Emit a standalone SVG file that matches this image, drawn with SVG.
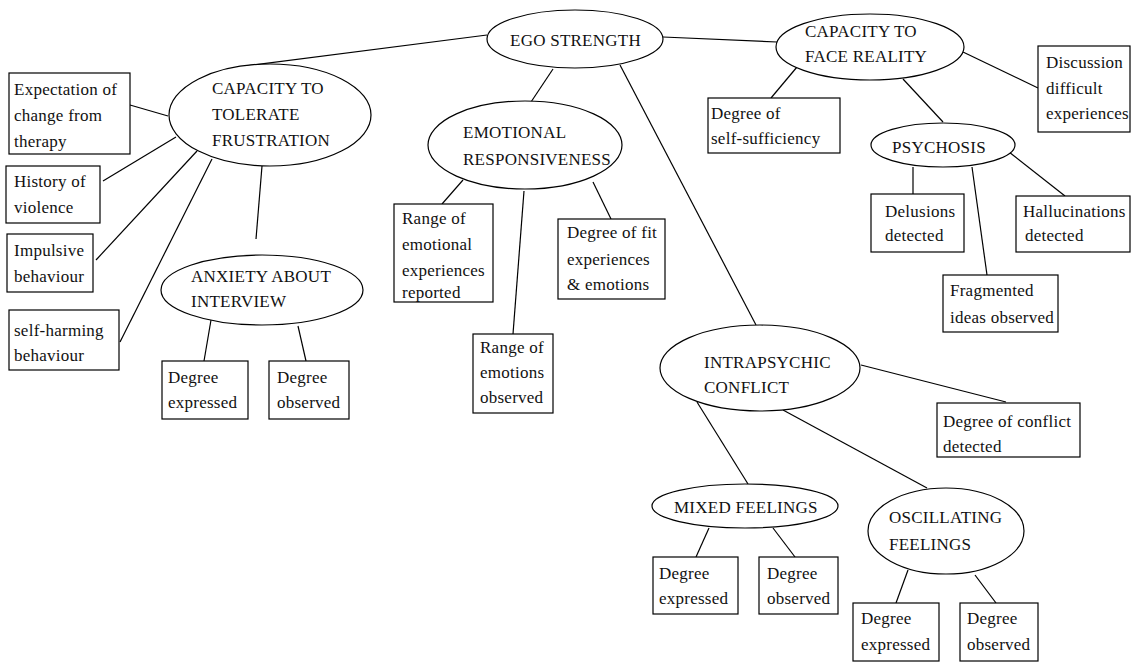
<svg xmlns="http://www.w3.org/2000/svg" width="1131" height="663" viewBox="0 0 1131 663">
<style>
.n{fill:#fff;stroke:#000;stroke-width:1.2}
.c line{stroke:#000;stroke-width:1.2}
text{font-family:'Liberation Serif','Times New Roman',serif;font-size:17px;letter-spacing:0.25px;fill:#111}
</style>
<rect width="1131" height="663" fill="#fff"/>
<g class="c" id="connectors">
<line x1="245" y1="66" x2="487" y2="35"/>
<line x1="663" y1="37" x2="777" y2="42"/>
<line x1="553" y1="69" x2="531" y2="102"/>
<line x1="620" y1="65" x2="756" y2="325"/>
<line x1="130" y1="105" x2="168" y2="116"/>
<line x1="103" y1="181" x2="176" y2="137"/>
<line x1="96" y1="260" x2="197" y2="151"/>
<line x1="120" y1="342" x2="212" y2="159"/>
<line x1="262" y1="166" x2="256" y2="239"/>
<line x1="211" y1="320" x2="204" y2="361"/>
<line x1="298" y1="326" x2="306" y2="361"/>
<line x1="463" y1="180" x2="442" y2="204"/>
<line x1="524" y1="191" x2="513" y2="334"/>
<line x1="593" y1="182" x2="611" y2="219"/>
<line x1="797" y1="67" x2="771" y2="98"/>
<line x1="963" y1="52" x2="1038" y2="88"/>
<line x1="903" y1="79" x2="943" y2="122"/>
<line x1="913" y1="167" x2="913" y2="194"/>
<line x1="1009" y1="152" x2="1065" y2="196"/>
<line x1="972" y1="167" x2="987" y2="275"/>
<line x1="861" y1="365" x2="1006" y2="402"/>
<line x1="697" y1="402" x2="748" y2="484"/>
<line x1="783" y1="410" x2="927" y2="488"/>
<line x1="709" y1="528" x2="696" y2="557"/>
<line x1="773" y1="528" x2="795" y2="557"/>
<line x1="908" y1="570" x2="896" y2="603"/>
<line x1="975" y1="575" x2="996" y2="603"/>
</g>
<g id="ego"><ellipse class="n" cx="575" cy="39" rx="88" ry="29"/><text x="510" y="46">EGO STRENGTH</text></g>
<g id="ctf"><ellipse class="n" cx="270" cy="115" rx="101" ry="51"/><text x="212" y="94">CAPACITY TO</text><text x="212" y="120">TOLERATE</text><text x="212" y="146">FRUSTRATION</text></g>
<g id="expect"><rect class="n" x="9" y="73" width="121" height="81"/><text x="14" y="95">Expectation of</text><text x="14" y="121">change from</text><text x="14" y="147">therapy</text></g>
<g id="history"><rect class="n" x="6" y="166" width="94" height="57"/><text x="14" y="187">History of</text><text x="14" y="213">violence</text></g>
<g id="impulsive"><rect class="n" x="7" y="234" width="86" height="58"/><text x="14" y="256">Impulsive</text><text x="14" y="282">behaviour</text></g>
<g id="selfharm"><rect class="n" x="9" y="310" width="110" height="60"/><text x="14" y="336">self-harming</text><text x="14" y="361">behaviour</text></g>
<g id="anxiety"><ellipse class="n" cx="262" cy="290" rx="101" ry="35"/><text x="191" y="282">ANXIETY ABOUT</text><text x="191" y="307">INTERVIEW</text></g>
<g id="anx-exp"><rect class="n" x="162" y="361" width="86" height="58"/><text x="168" y="383">Degree</text><text x="168" y="408">expressed</text></g>
<g id="anx-obs"><rect class="n" x="269" y="361" width="80" height="58"/><text x="277" y="383">Degree</text><text x="277" y="408">observed</text></g>
<g id="emo"><ellipse class="n" cx="525" cy="145" rx="97" ry="44"/><text x="463" y="138">EMOTIONAL</text><text x="463" y="165">RESPONSIVENESS</text></g>
<g id="range-exp"><rect class="n" x="394" y="204" width="99" height="98"/><text x="402" y="224">Range of</text><text x="402" y="250">emotional</text><text x="402" y="276">experiences</text><text x="402" y="298">reported</text></g>
<g id="range-emo"><rect class="n" x="473" y="334" width="80" height="79"/><text x="480" y="353">Range of</text><text x="480" y="378">emotions</text><text x="480" y="403">observed</text></g>
<g id="fit"><rect class="n" x="558" y="219" width="107" height="80"/><text x="567" y="238">Degree of fit</text><text x="567" y="265">experiences</text><text x="567" y="290">&amp; emotions</text></g>
<g id="cfr"><ellipse class="n" cx="870" cy="47" rx="94" ry="33"/><text x="805" y="37">CAPACITY TO</text><text x="805" y="62">FACE REALITY</text></g>
<g id="selfsuff"><rect class="n" x="708" y="98" width="132" height="55"/><text x="711" y="119">Degree of</text><text x="711" y="144">self-sufficiency</text></g>
<g id="discussion"><rect class="n" x="1038" y="46" width="92" height="86"/><text x="1046" y="68">Discussion</text><text x="1046" y="94">difficult</text><text x="1046" y="119">experiences</text></g>
<g id="psychosis"><ellipse class="n" cx="943" cy="145" rx="72" ry="22"/><text x="892" y="153">PSYCHOSIS</text></g>
<g id="delusions"><rect class="n" x="871" y="194" width="93" height="58"/><text x="885" y="217">Delusions</text><text x="885" y="241">detected</text></g>
<g id="halluc"><rect class="n" x="1016" y="196" width="114" height="56"/><text x="1023" y="217">Hallucinations</text><text x="1025" y="241">detected</text></g>
<g id="fragmented"><rect class="n" x="943" y="275" width="115" height="57"/><text x="950" y="296">Fragmented</text><text x="950" y="323">ideas observed</text></g>
<g id="intra"><ellipse class="n" cx="760" cy="368" rx="100" ry="43"/><text x="704" y="368">INTRAPSYCHIC</text><text x="704" y="393">CONFLICT</text></g>
<g id="conflict"><rect class="n" x="937" y="403" width="143" height="54"/><text x="943" y="427">Degree of conflict</text><text x="943" y="452">detected</text></g>
<g id="mixed"><ellipse class="n" cx="745" cy="506" rx="93" ry="22"/><text x="674" y="513">MIXED FEELINGS</text></g>
<g id="mix-exp"><rect class="n" x="653" y="557" width="85" height="57"/><text x="659" y="579">Degree</text><text x="659" y="604">expressed</text></g>
<g id="mix-obs"><rect class="n" x="759" y="557" width="79" height="57"/><text x="767" y="579">Degree</text><text x="767" y="604">observed</text></g>
<g id="osc"><ellipse class="n" cx="946" cy="531" rx="78" ry="43"/><text x="889" y="523">OSCILLATING</text><text x="889" y="550">FEELINGS</text></g>
<g id="osc-exp"><rect class="n" x="853" y="603" width="86" height="58"/><text x="861" y="624">Degree</text><text x="861" y="650">expressed</text></g>
<g id="osc-obs"><rect class="n" x="960" y="603" width="78" height="58"/><text x="967" y="624">Degree</text><text x="967" y="650">observed</text></g>
</svg>
